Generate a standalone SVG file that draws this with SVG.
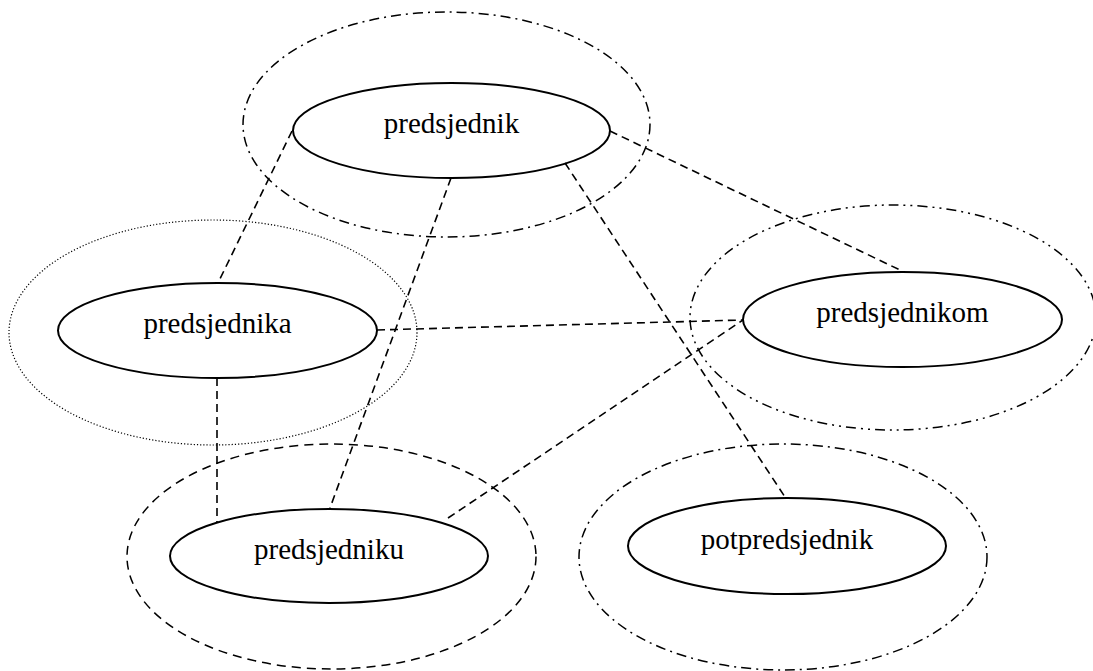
<svg xmlns="http://www.w3.org/2000/svg" width="1093" height="671" viewBox="0 0 1093 671">
<style>
.node{fill:none;stroke:#000;stroke-width:2}
.lbl{font-family:"Liberation Serif","Times New Roman",serif;font-size:29px;fill:#000;text-anchor:middle}
.ring{fill:none;stroke:#000;stroke-width:1.5}
.dashdot{stroke-dasharray:10 5 2 5}
.dashdotdot{stroke-dasharray:10 5 2 5 2 5}
.dotted{stroke-width:1.2;stroke-dasharray:1.2 2}
.dashed{stroke-dasharray:9 6}
.edge{fill:none;stroke:#000;stroke-width:1.6;stroke-dasharray:8 5}
</style>
<rect width="1093" height="671" fill="#fff"/>
<g id="clusters">
<ellipse class="ring dashdot" cx="446.5" cy="124.5" rx="203.5" ry="112.5"/>
<ellipse class="ring dotted" cx="213" cy="332.5" rx="204" ry="112.5"/>
<ellipse class="ring dashdotdot" cx="893" cy="317.5" rx="203" ry="112.5"/>
<ellipse class="ring dashed" cx="331.5" cy="556.5" rx="204.5" ry="112.5"/>
<ellipse class="ring dashdot" cx="783" cy="557" rx="204" ry="113"/>
</g>
<g id="connectors">
<line class="edge" x1="292" y1="131" x2="218" y2="283"/>
<line class="edge" x1="451" y1="178" x2="330" y2="508"/>
<line class="edge" x1="565" y1="163" x2="785" y2="497"/>
<line class="edge" x1="610" y1="131" x2="902" y2="271"/>
<line class="edge" x1="377" y1="330" x2="743" y2="320"/>
<line class="edge" x1="217" y1="378" x2="217" y2="522"/>
<line class="edge" x1="448" y1="518" x2="743" y2="320"/>
</g>
<g id="predsjednik">
<ellipse class="node" cx="451.5" cy="130.5" rx="158.5" ry="47.5"/>
<text class="lbl" x="451.5" y="133">predsjednik</text>
</g>
<g id="predsjednika">
<ellipse class="node" cx="217.5" cy="330.5" rx="159.5" ry="47.5"/>
<text class="lbl" x="217.5" y="333">predsjednika</text>
</g>
<g id="predsjednikom">
<ellipse class="node" cx="902.5" cy="319.5" rx="159.5" ry="47.5"/>
<text class="lbl" x="902.5" y="322">predsjednikom</text>
</g>
<g id="predsjedniku">
<ellipse class="node" cx="329" cy="556" rx="159" ry="47"/>
<text class="lbl" x="329" y="558.5">predsjedniku</text>
</g>
<g id="potpredsjednik">
<ellipse class="node" cx="787" cy="546" rx="159" ry="48"/>
<text class="lbl" x="787" y="548.5">potpredsjednik</text>
</g>
</svg>
